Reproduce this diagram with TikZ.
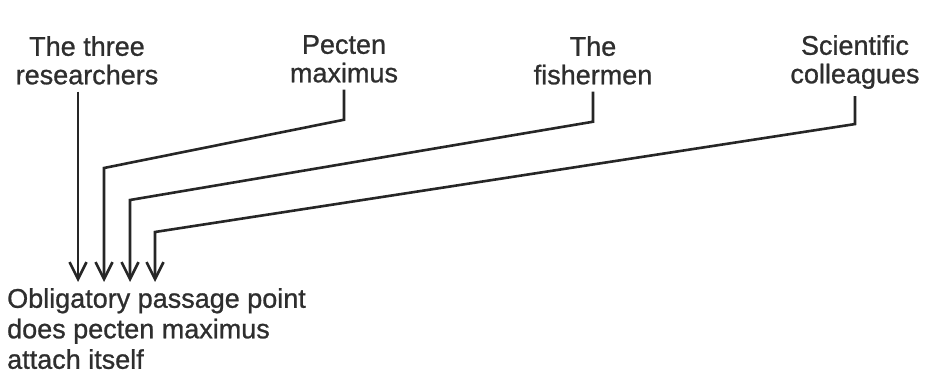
\documentclass[tikz,border=0pt]{standalone}
\usepackage{fontspec}
\setmainfont[FakeBold=0.9]{Liberation Sans}
\usetikzlibrary{arrows.meta, calc, positioning}

\begin{document}
\begin{tikzpicture}[x=1pt, y=-1pt,
    actor/.style={align=center, inner xsep=0pt, inner ysep=7pt, anchor=north,
      font=\fontsize{27}{28.5}\selectfont, text=black!82},
    link/.style={line width=2.6pt, draw=black!85,
      -{Straight Barb[length=17pt, width=17pt, line width=2.6pt]}},
  ]
  \useasboundingbox (0,0) rectangle (926,379);

  % The four actors
  \node[actor] (res) at (87,29) {The three\\researchers};
  \node[actor] (pec) at (344,28) {Pecten\\maximus};
  \node[actor] (fish) at (593,29) {The\\fishermen};
  \node[actor] (sci) at (855,28) {Scientific\\colleagues};

  % Obligatory passage point
  \node[align=left, inner sep=0pt, anchor=north west, text=black!82,
    font=\fontsize{27}{30.5}\selectfont] (opp) at (7,288)
    {Obligatory passage point\\does pecten maximus\\attach itself};

  % Arrow tips
  \coordinate (tipA) at (78,282);
  \coordinate (tipB) at (104,282);
  \coordinate (tipC) at (130,282);
  \coordinate (tipD) at (155,282);

  % Bends
  \coordinate (pecBend) at (104,168);
  \coordinate (fishBend) at (130,200);
  \coordinate (sciBend) at (155,232);

  \draw[link] (res.south -| tipA) -- (tipA);
  \draw[link] (pec.south) -- ++(0,30) -- (pecBend) -- (tipB);
  \draw[link] (fish.south) -- ++(0,30) -- (fishBend) -- (tipC);
  \draw[link] (sci.south) -- ++(0,28) -- (sciBend) -- (tipD);
\end{tikzpicture}
\end{document}
